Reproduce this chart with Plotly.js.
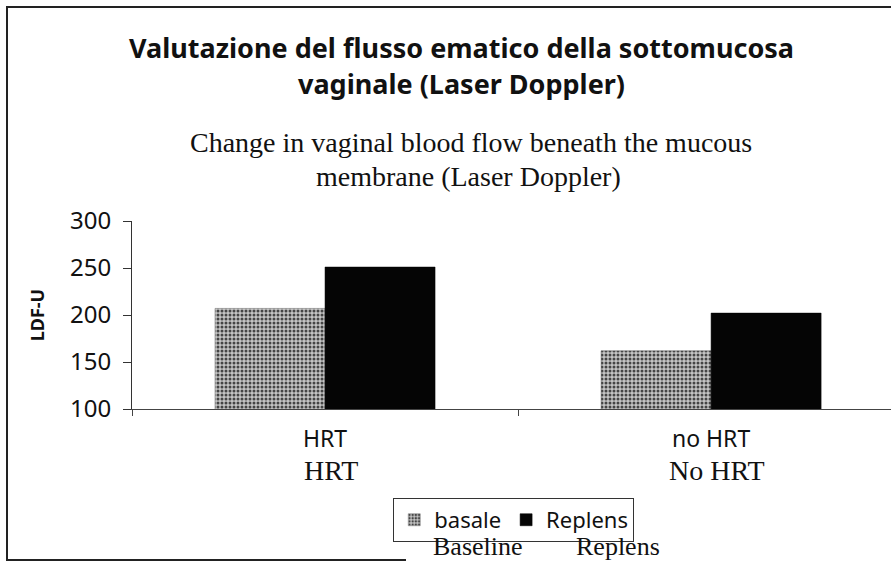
<!DOCTYPE html>
<html>
<head>
<meta charset="utf-8">
<script src="https://cdn.plot.ly/plotly-3.0.1.min.js"></script>
<style>
  html, body { margin: 0; padding: 0; background: #fff; }
  #chart { width: 891px; height: 562px; position: relative; }
  .edge { position: absolute; background: #222; pointer-events: none; }
</style>
</head>
<body>
<div id="chart"></div>
<div class="edge" style="left:6px; top:6px; width:885px; height:2px;"></div>
<div class="edge" style="left:6px; top:6px; width:2px; height:555px;"></div>
<div class="edge" style="left:6px; top:559px; width:400px; height:2px;"></div>
<script>
const categories = ["HRT", "no HRT"];
const categoriesEn = ["HRT", "No HRT"];
const basale = [207, 162];
const replens = [251, 202];
const seriesNames = ["basale", "Replens"];
const seriesNamesEn = ["Baseline", "Replens"];
const yTicks = [100, 150, 200, 250, 300];

const sans = "Noto Sans, Open Sans, sans-serif";
const serif = "Liberation Serif, Times New Roman, serif";

const traces = [
  {
    type: "bar", name: seriesNames[0], x: categories, y: basale,
    marker: { color: "#b8b8b8", line: { color: "#666", width: 0.5 },
      pattern: { shape: ".", fgcolor: "#444", bgcolor: "#c4c4c4", size: 4, solidity: 0.45 } }
  },
  {
    type: "bar", name: seriesNames[1], x: categories, y: replens,
    marker: { color: "#050505", line: { color: "#000", width: 0.5 } }
  }
];

const annotations = [
  { text: "Change in vaginal blood flow beneath the mucous",
    xref: "paper", yref: "paper", x: 0.447, y: 1, yshift: 79, xanchor: "center", yanchor: "middle",
    showarrow: false, font: { family: serif, size: 28, color: "#111" } },
  { text: "membrane (Laser Doppler)",
    xref: "paper", yref: "paper", x: 0.444, y: 1, yshift: 45, xanchor: "center", yanchor: "middle",
    showarrow: false, font: { family: serif, size: 28, color: "#111" } },
  { text: seriesNamesEn[0], xref: "paper", yref: "paper", x: 0.456, y: 0, yshift: -137,
    xanchor: "center", yanchor: "middle", showarrow: false, font: { family: serif, size: 26, color: "#111" } },
  { text: seriesNamesEn[1], xref: "paper", yref: "paper", x: 0.640, y: 0, yshift: -137,
    xanchor: "center", yanchor: "middle", showarrow: false, font: { family: serif, size: 26, color: "#111" } }
];
categoriesEn.forEach((c, i) => {
  annotations.push({ text: c, xref: "x", yref: "paper", x: categories[i], y: 0, yshift: -61, xshift: 6,
    xanchor: "center", yanchor: "middle", showarrow: false, font: { family: serif, size: 28, color: "#111" } });
});

const layout = {
  width: 891, height: 562,
  margin: { l: 132, r: 0, t: 221, b: 153 },
  paper_bgcolor: "#fff", plot_bgcolor: "#fff",
  title: { text: "<b>Valutazione del flusso ematico della sottomucosa<br>vaginale (Laser Doppler)</b>",
    x: 0.518, xanchor: "center", y: 0.896, yanchor: "middle", font: { family: sans, size: 27, color: "#111" } },
  barmode: "group", bargap: 0.43, bargroupgap: 0,
  showlegend: true,
  legend: { orientation: "h", x: 0.503, xanchor: "center", y: -0.473, yanchor: "top",
    bordercolor: "#333", borderwidth: 1, font: { family: sans, size: 22, color: "#111" },
    itemwidth: 30, tracegroupgap: 0 },
  xaxis: { type: "category", range: [-0.5, 1.466], showline: true, linecolor: "#444", linewidth: 1,
    ticks: "outside", tickson: "boundaries", ticklen: 6, tickcolor: "#444", ticklabelstandoff: 9,
    tickfont: { family: sans, size: 23, color: "#111" }, showgrid: false, zeroline: false },
  yaxis: { range: [100, 300], tickvals: yTicks, showline: true, linecolor: "#333", linewidth: 1,
    ticks: "outside", ticklen: 8, tickcolor: "#333", ticklabelstandoff: 7, showgrid: false, zeroline: false,
    tickfont: { family: sans, size: 24, color: "#111" },
    title: { text: "<b>LDF-U</b>", font: { family: sans, size: 18, color: "#111" }, standoff: 20 } },
  annotations: annotations
};

Plotly.newPlot("chart", traces, layout, { displayModeBar: false, staticPlot: true });
</script>
</body>
</html>
